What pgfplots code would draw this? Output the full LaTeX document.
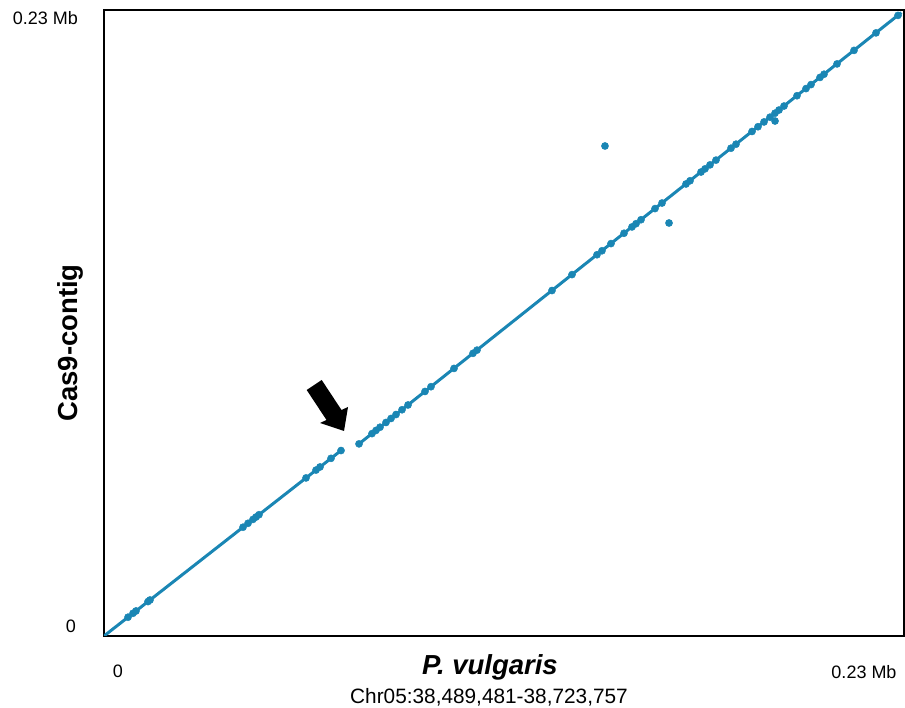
\documentclass[border=0pt]{standalone}
\usepackage{pgfplots}
\pgfplotsset{compat=1.18}
\usepackage{fontspec}
\setmainfont{Liberation Sans}
\definecolor{dotblue}{RGB}{26,134,180}
\begin{document}
\begin{tikzpicture}
\useasboundingbox (-104pt,-72pt) rectangle (801pt,636pt);
\begin{axis}[at={(0pt,0pt)},anchor=south west, scale only axis,
  width=800pt, height=626pt,
  xmin=0, xmax=234.276, ymin=0, ymax=234.276,
  xtick=\empty, ytick=\empty,
  axis line style={line width=1.6pt, black}]
\addplot[dotblue, line width=3pt, no marks] coordinates {(0,0) (69.41,69.41)};
\addplot[dotblue, line width=3pt, no marks] coordinates {(74.68,71.9) (233.5,233.3)};
\addplot[only marks, mark=*, mark size=3.6pt, dotblue] coordinates {
(7.03,7.03) (8.49,8.49) (9.37,9.37) (12.89,12.89) (13.47,13.47)
(40.71,40.71) (42.17,42.17) (43.63,43.63) (44.51,44.51) (45.39,45.39)
(59.16,59.16) (62.09,62.09) (63.26,63.26) (66.48,66.48) (69.41,69.41)
(74.68,71.9) (78.48,75.74) (79.65,76.93) (80.83,78.13) (82.58,79.91)
(84.05,81.40) (85.51,82.88) (87.27,84.67) (89.03,86.46) (94.00,91.51)
(95.76,93.30) (102.50,100.14) (108.06,105.79) (109.23,106.98)
(131.19,129.29) (137.05,135.25) (144.37,142.68) (145.83,144.17)
(148.47,146.85) (152.28,150.72) (154.62,153.09) (155.80,154.30)
(157.26,155.78) (161.36,159.95) (163.41,162.03) (170.44,169.17)
(171.61,170.36) (174.83,173.63) (176.00,174.82) (177.47,176.31)
(179.22,178.09) (183.61,182.55) (185.08,184.05) (189.77,188.81)
(191.52,190.59) (193.28,192.38) (195.04,194.17) (196.50,195.65)
(197.67,196.84) (199.14,198.33) (202.94,202.19) (205.58,204.87)
(207.04,206.36) (209.68,209.04) (210.85,210.23) (214.66,214.10)
(219.64,219.16) (226.08,225.71) (232.52,232.25)
(146.71,183.38) (165.46,154.56) (196.50,192.73)
};
\end{axis}
\fill[black] (202.7pt,246pt) -- (217.7pt,256pt) -- (237.5pt,226pt) -- (244pt,229pt)
  -- (240pt,205pt) -- (216pt,213pt) -- (222.5pt,216pt) -- cycle;
\node[font=\fontsize{18}{20}\selectfont] at (-58.5pt,618pt) {0.23 Mb};
\node[font=\fontsize{18}{20}\selectfont] at (-33pt,10pt) {0};
\node[font=\fontsize{18}{20}\selectfont] at (14pt,-35pt) {0};
\node[font=\fontsize{18}{20}\selectfont] at (760pt,-36pt) {0.23 Mb};
\node[font=\fontsize{27.5}{30}\selectfont\bfseries\itshape, anchor=base] at (386pt,-39pt) {P. vulgaris};
\node[font=\fontsize{20.8}{23}\selectfont, anchor=base] at (385pt,-68pt) {Chr05:38,489,481-38,723,757};
\node[font=\fontsize{27.5}{30}\selectfont\bfseries, rotate=90, anchor=base] at (-26pt,293pt) {Cas9-contig};
\end{tikzpicture}
\end{document}
